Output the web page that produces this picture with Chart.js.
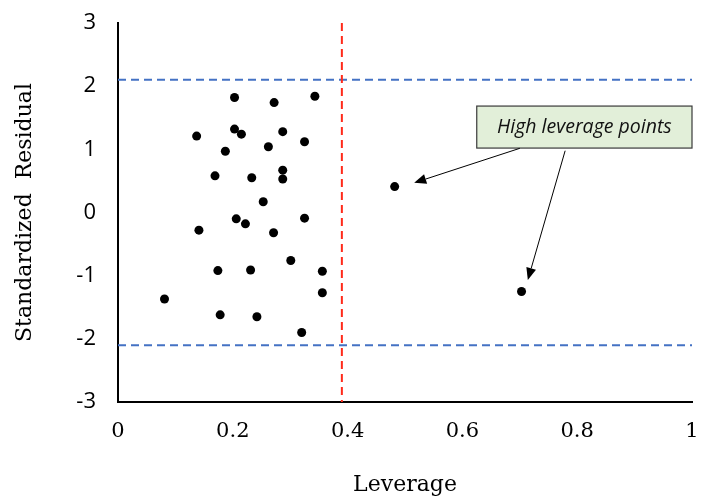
<!DOCTYPE html>
<html lang="en">
<head>
<meta charset="UTF-8">
<title>Leverage vs Standardized Residual</title>
<script src="https://cdn.jsdelivr.net/npm/chart.js"></script>
<style>
  html, body { margin: 0; padding: 0; background: #fff; }
</style>
</head>
<body>
<canvas id="myChart" width="702" height="499"></canvas>
<script>
// punkter
let leverage = [0.203, 0.272, 0.343, 0.203, 0.215, 0.287, 0.137, 0.325, 0.262, 0.187,
                0.287, 0.287, 0.169, 0.233, 0.253, 0.206, 0.222, 0.325, 0.141, 0.271,
                0.301, 0.174, 0.231, 0.356, 0.356, 0.081, 0.178, 0.242, 0.320, 0.482, 0.703];
let residual = [1.82, 1.74, 1.84, 1.32, 1.24, 1.28, 1.21, 1.12, 1.04, 0.97,
                0.67, 0.53, 0.58, 0.55, 0.17, -0.10, -0.18, -0.09, -0.28, -0.32,
                -0.76, -0.92, -0.91, -0.93, -1.27, -1.37, -1.62, -1.65, -1.90, 0.41, -1.25];

// grænser
let leverageCutoff = 0.39;
let residualLimits = [2.1, -2.1];

// akser
let xTicks = [0, 0.2, 0.4, 0.6, 0.8, 1];
let yTicks = [-3, -2, -1, 0, 1, 2, 3];

// annotation (data-koordinater)
let noteText = "High leverage points";
let noteBox = [0.625, 1.685, 1.0, 1.02];   // x1, y1, x2, y2
let arrowFrom = [[0.700, 1.016], [0.779, 0.978]];
let arrowTo = [[0.516, 0.47], [0.714, -1.068]];

let points = leverage.map((x, i) => ({ x: x, y: residual[i] }));

let refLines = {
    id: 'refLines',
    beforeDatasetsDraw(chart) {
        let ctx = chart.ctx;
        let xs = chart.scales.x, ys = chart.scales.y;
        ctx.save();
        ctx.lineWidth = 2;
        ctx.strokeStyle = '#4472C4';
        ctx.setLineDash([8, 5]);
        residualLimits.forEach(v => {
            let py = ys.getPixelForValue(v);
            ctx.beginPath();
            ctx.moveTo(xs.getPixelForValue(0), py);
            ctx.lineTo(xs.getPixelForValue(1), py);
            ctx.stroke();
        });
        ctx.strokeStyle = '#FF2A1A';
        ctx.setLineDash([8, 5]);
        let px = xs.getPixelForValue(leverageCutoff);
        ctx.beginPath();
        ctx.moveTo(px, ys.getPixelForValue(3));
        ctx.lineTo(px, ys.getPixelForValue(-3));
        ctx.stroke();
        ctx.restore();
    },
    afterDatasetsDraw(chart) {
        let ctx = chart.ctx;
        let xs = chart.scales.x, ys = chart.scales.y;
        ctx.save();
        // boks
        let bx1 = xs.getPixelForValue(noteBox[0]), by1 = ys.getPixelForValue(noteBox[1]);
        let bx2 = xs.getPixelForValue(noteBox[2]), by2 = ys.getPixelForValue(noteBox[3]);
        ctx.fillStyle = '#E2EFD9';
        ctx.fillRect(bx1, by1, bx2 - bx1, by2 - by1);
        ctx.lineWidth = 1.2;
        ctx.strokeStyle = '#3a3a3a';
        ctx.strokeRect(bx1, by1, bx2 - bx1, by2 - by1);
        ctx.fillStyle = '#111';
        ctx.font = 'italic 19.5px "Open Sans"';
        ctx.textAlign = 'center';
        ctx.textBaseline = 'middle';
        ctx.fillText(noteText, (bx1 + bx2) / 2, (by1 + by2) / 2);
        // pile
        ctx.strokeStyle = '#000';
        ctx.fillStyle = '#000';
        ctx.lineWidth = 1;
        for (let i = 0; i < arrowFrom.length; i++) {
            let x1 = xs.getPixelForValue(arrowFrom[i][0]), y1 = ys.getPixelForValue(arrowFrom[i][1]);
            let x2 = xs.getPixelForValue(arrowTo[i][0]), y2 = ys.getPixelForValue(arrowTo[i][1]);
            let a = Math.atan2(y2 - y1, x2 - x1);
            let len = 12, hw = 5;
            let bx = x2 - len * Math.cos(a), by = y2 - len * Math.sin(a);
            ctx.beginPath();
            ctx.moveTo(x1, y1);
            ctx.lineTo(bx, by);
            ctx.stroke();
            ctx.beginPath();
            ctx.moveTo(x2, y2);
            ctx.lineTo(bx + hw * Math.sin(a), by - hw * Math.cos(a));
            ctx.lineTo(bx - hw * Math.sin(a), by + hw * Math.cos(a));
            ctx.closePath();
            ctx.fill();
        }
        ctx.restore();
    }
};

let ctx = document.getElementById("myChart").getContext("2d");
let myChart = new Chart(ctx, {
    type: 'scatter',
    data: {
        datasets: [{
            label: 'Standardized Residual',
            data: points,
            backgroundColor: '#000',
            borderWidth: 0,
            pointRadius: 4.5,
            pointHoverRadius: 4.5
        }]
    },
    options: {
        responsive: false,
        animation: false,
        layout: { padding: { top: 23, right: 10, left: 0, bottom: 0 } },
        plugins: { legend: { display: false }, tooltip: { enabled: false } },
        scales: {
            x: {
                type: 'linear',
                min: 0, max: 1,
                afterBuildTicks: s => { s.ticks = xTicks.map(v => ({ value: v })); },
                afterFit: s => { s.height = 97; s.paddingLeft = 0; s.paddingRight = 0; },
                grid: { display: false, drawTicks: false },
                border: { color: '#000', width: 2 },
                ticks: {
                    padding: 17,
                    color: '#000',
                    font: { family: '"DejaVu Serif"', size: 21 },
                    callback: v => String(v)
                },
                title: {
                    display: true,
                    text: 'Leverage',
                    color: '#000',
                    font: { family: '"DejaVu Serif"', size: 22 },
                    padding: { top: 0, bottom: 1 }
                }
            },
            y: {
                type: 'linear',
                min: -3, max: 3,
                afterBuildTicks: s => { s.ticks = yTicks.map(v => ({ value: v })); },
                afterFit: s => { s.width = 118; s.paddingTop = 0; s.paddingBottom = 0; },
                grid: { display: false, drawTicks: false },
                border: { color: '#000', width: 2 },
                ticks: {
                    padding: 22,
                    color: '#000',
                    font: { family: '"Open Sans"', size: 22 },
                    callback: v => String(v)
                },
                title: {
                    display: true,
                    text: 'Standardized  Residual',
                    color: '#000',
                    font: { family: '"DejaVu Serif"', size: 22 },
                    padding: { top: 12, bottom: 0 }
                }
            }
        }
    },
    plugins: [refLines]
});
</script>
</body>
</html>
